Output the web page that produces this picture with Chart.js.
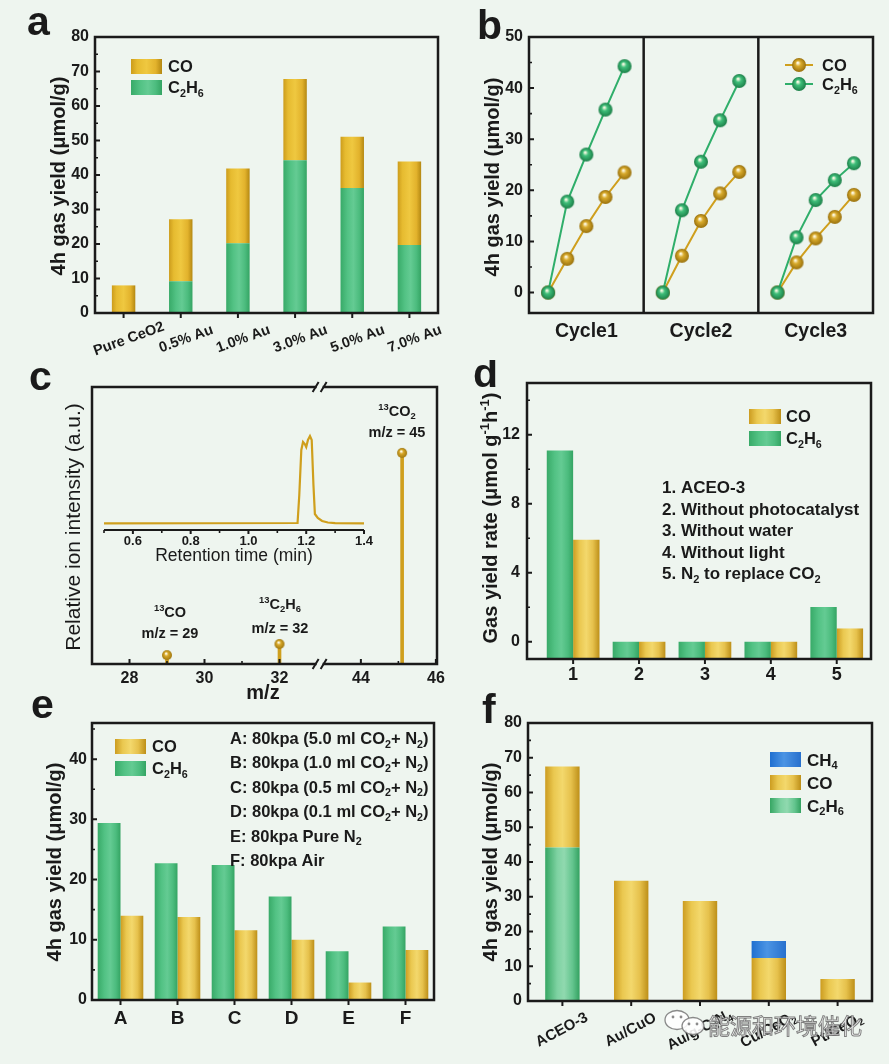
<!DOCTYPE html>
<html>
<head>
<meta charset="utf-8">
<title>Photocatalytic CO2 reduction panels</title>
<script src="https://cdn.jsdelivr.net/npm/chart.js@4.4.1/dist/chart.umd.min.js"></script>
<style>
  html, body { margin: 0; padding: 0; background: #eef5ef; }
  #page { position: relative; width: 889px; height: 1064px; overflow: hidden; background: #eef5ef; }
  #page canvas { position: absolute; }
</style>
</head>
<body>
<div id="page"></div>
<script>
const FAMILY = "'Liberation Sans', Arial, sans-serif";
const INK = '#1a1a1a';
const BG = '#eef5ef';
const GOLD = '#cf9f1d';
const GREEN = '#2fae6a';

// a: Au loading on CeO2, stacked 4h yields
const loadings = ['Pure CeO2', '0.5% Au', '1.0% Au', '3.0% Au', '5.0% Au', '7.0% Au'];
const loadC2H6 = [0, 9.2, 20.2, 44.3, 36.2, 19.7];
const loadCO = [8.0, 18.0, 21.7, 23.5, 14.9, 24.2];
const yTicksA = [0, 10, 20, 30, 40, 50, 60, 70, 80];

// b: three runs, 5 sampling points each
const cycles = ['Cycle1', 'Cycle2', 'Cycle3'];
const cycleCO = [[0, 6.6, 13.0, 18.7, 23.5], [0, 7.2, 14.0, 19.4, 23.6], [0, 5.9, 10.6, 14.8, 19.1]];
const cycleC2H6 = [[0, 17.8, 27.0, 35.8, 44.3], [0, 16.1, 25.6, 33.7, 41.4], [0, 10.8, 18.1, 22.0, 25.3]];
const yTicksB = [0, 10, 20, 30, 40, 50];

// c: 13C labelling, MS peaks + GC trace (inset)
const mzPeaks = [29, 32, 45.1];
const mzIntensity = [0.032, 0.072, 0.762];
const mzTicks = [28, 30, 32, 44, 46];
const mzMinor = [29, 31, 45];
const rtTime = [0.5, 1.17, 1.176, 1.183, 1.189, 1.195, 1.2, 1.206, 1.213, 1.219, 1.225, 1.23, 1.24, 1.255, 1.275, 1.3, 1.4];
const rtSignal = [0.067, 0.07, 0.35, 0.8, 0.88, 0.86, 0.83, 0.9, 0.94, 0.9, 0.45, 0.16, 0.12, 0.09, 0.075, 0.068, 0.067];
const rtTicks = [0.6, 0.8, 1.0, 1.2, 1.4];
const rtMinor = [0.5, 0.7, 0.9, 1.1, 1.3];

// d: control experiments
const conditions = [1, 2, 3, 4, 5];
const condC2H6 = [11.08, 0, 0, 0, 2.01];
const condCO = [5.91, 0, 0, 0, 0.77];
const condNotes = ['1. ACEO-3', '2. Without photocatalyst', '3. Without water', '4. Without light', '5. N_{2} to replace CO_{2}'];
const yTicksD = [0, 4, 8, 12];

// e: gas atmosphere
const atmos = ['A', 'B', 'C', 'D', 'E', 'F'];
const atmC2H6 = [29.4, 22.7, 22.4, 17.2, 8.1, 12.2];
const atmCO = [14.0, 13.8, 11.6, 10.0, 2.9, 8.3];
const atmNotes = ['A: 80kpa (5.0 ml CO_{2}+ N_{2})', 'B: 80kpa (1.0 ml CO_{2}+ N_{2})', 'C: 80kpa (0.5 ml CO_{2}+ N_{2})',
  'D: 80kpa (0.1 ml CO_{2}+ N_{2})', 'E: 80kpa Pure N_{2}', 'F: 80kpa Air'];
const yTicksE = [0, 10, 20, 30, 40];

// f: other catalysts
const catalysts = ['ACEO-3', 'Au/CuO', 'Au/g-C_{3}N_{4}', 'Cu/CeO_{2}', 'Pt/CeO_{2}'];
const catC2H6 = [44.2, 0, 0, 0, 0];
const catCO = [23.3, 34.6, 28.8, 12.4, 6.3];
const catCH4 = [0, 0, 0, 4.9, 0];
const yTicksF = [0, 10, 20, 30, 40, 50, 60, 70, 80];

const TONES = {
  gold: [[0, '#cc9c1c'], [0.2, '#e6bb30'], [0.5, '#efc840'], [0.8, '#e2b22c'], [1, '#b48812']],
  goldSoft: [[0, '#cc9c20'], [0.25, '#eac850'], [0.5, '#f3d86c'], [0.75, '#e6c14c'], [1, '#bd8f18']],
  green: [[0, '#38aa68'], [0.3, '#52c284'], [0.55, '#64cb93'], [0.8, '#4cbc7e'], [1, '#34a463']],
  greenSoft: [[0, '#36a663'], [0.35, '#7ed2a2'], [0.55, '#90d9af'], [0.8, '#62c48d'], [1, '#33a160']],
  blue: [[0, '#1f6fd0'], [0.45, '#4b94e4'], [1, '#2870cd']]
};

function fontOf(size, weight) { return (weight || 'bold') + ' ' + size + 'px ' + FAMILY; }

// tiny markup: _{sub} and ^{sup}
function richParts(str) {
  const out = [], re = /([_^])\{([^}]*)\}/g;
  let last = 0, m;
  while ((m = re.exec(str))) {
    if (m.index > last) out.push([str.slice(last, m.index), 'n']);
    out.push([m[2], m[1] === '_' ? 'sub' : 'sup']);
    last = re.lastIndex;
  }
  if (last < str.length) out.push([str.slice(last), 'n']);
  return out;
}
function richWidth(ctx, str, size, weight) {
  let w = 0;
  richParts(str).forEach(([t, k]) => { ctx.font = fontOf(k === 'n' ? size : size * 0.65, weight); w += ctx.measureText(t).width; });
  return w;
}
function drawRich(ctx, str, x, y, size, align, weight) {
  const w = richWidth(ctx, str, size, weight);
  let cx = align === 'center' ? x - w / 2 : align === 'right' ? x - w : x;
  ctx.textAlign = 'left';
  ctx.textBaseline = 'alphabetic';
  richParts(str).forEach(([t, k]) => {
    const s = k === 'n' ? size : size * 0.65;
    ctx.font = fontOf(s, weight);
    const dy = k === 'sub' ? size * 0.22 : k === 'sup' ? -size * 0.42 : 0;
    ctx.fillText(t, cx, y + dy);
    cx += ctx.measureText(t).width;
  });
}

function toneFill(ctx, tone, left, width) {
  const g = ctx.createLinearGradient(left, 0, left + width, 0);
  TONES[tone].forEach(([o, c]) => g.addColorStop(o, c));
  return g;
}

function ball(base, dark, r) {
  const c = document.createElement('canvas');
  const d = r * 2 + 2;
  c.width = c.height = d;
  const g = c.getContext('2d');
  const grad = g.createRadialGradient(d * 0.42, d * 0.36, 0.5, d / 2, d / 2, r);
  grad.addColorStop(0, '#fffbe6');
  grad.addColorStop(0.35, base);
  grad.addColorStop(1, dark);
  g.fillStyle = grad;
  g.beginPath(); g.arc(d / 2, d / 2, r, 0, Math.PI * 2); g.fill();
  return c;
}
const ballGold = ball('#d9ab2c', '#98700c', 7);
const ballGreen = ball('#3fbf7a', '#1c7f48', 7);
const dotGold = ball('#d8a828', '#a07810', 5);

function minorBetween(majors, max) {
  const half = (majors[1] - majors[0]) / 2, out = [];
  for (let v = majors[0] + half; v < max; v += 2 * half) out.push(v);
  return out;
}

function paintBars(chart) {
  chart.data.datasets.forEach((ds, i) => {
    if (!ds.tone) return;
    chart.getDatasetMeta(i).data.forEach(el => {
      if (!el.width) return;
      el.options = Object.assign({}, el.options, { backgroundColor: toneFill(chart.ctx, ds.tone, el.x - el.width / 2, el.width) });
    });
  });
}

function marks(ctx, scale, a, axis, values, dir, len, width) {
  ctx.lineWidth = width;
  ctx.beginPath();
  values.forEach(v => {
    const p = scale.getPixelForValue(v);
    if (axis === 'y') { ctx.moveTo(a.left, p); ctx.lineTo(a.left + (dir === 'in' ? len : -len), p); }
    else { ctx.moveTo(p, a.bottom); ctx.lineTo(p, a.bottom + (dir === 'in' ? -len : len)); }
  });
  ctx.stroke();
}

function drawLegend(ctx, L, P) {
  L.items.forEach((it, i) => {
    const [x, y] = P(L.x, L.y + i * L.dy);
    if (it.tone) {
      ctx.fillStyle = toneFill(ctx, it.tone, x, L.w);
      ctx.fillRect(x, y, L.w, L.h);
    } else {
      ctx.strokeStyle = it.color; ctx.lineWidth = 2;
      ctx.beginPath(); ctx.moveTo(x, y + L.h / 2); ctx.lineTo(x + L.w, y + L.h / 2); ctx.stroke();
      ctx.drawImage(it.img, x + L.w / 2 - it.img.width / 2, y + L.h / 2 - it.img.height / 2);
    }
    ctx.fillStyle = INK;
    drawRich(ctx, it.label, x + L.w + L.gap, y + L.h / 2 + L.size * 0.36, L.size, 'left');
  });
}

// frame, tick marks, titles, notes and legends that Origin-style figures carry
function decor(cfg) {
  return {
    id: 'decor',
    beforeDatasetsDraw(chart) { paintBars(chart); },
    afterDraw(chart) {
      const ctx = chart.ctx, a = chart.chartArea;
      const ox = cfg.origin[0], oy = cfg.origin[1];
      const P = (x, y) => [x - ox, y - oy];
      const xs = chart.scales.x, ys = chart.scales.y;
      ctx.save();
      ctx.strokeStyle = INK; ctx.fillStyle = INK; ctx.lineCap = 'butt';
      if (cfg.yMarks) {
        marks(ctx, ys, a, 'y', ys.ticks.map(t => t.value), cfg.yMarks.dir, 5, 2);
        marks(ctx, ys, a, 'y', cfg.yMarks.minor || [], cfg.yMarks.dir, 3, 1.6);
      }
      if (cfg.xMarks) {
        marks(ctx, xs, a, 'x', cfg.xMarks.at, cfg.xMarks.dir, cfg.xMarks.len || 5, 2);
        marks(ctx, xs, a, 'x', cfg.xMarks.minor || [], cfg.xMarks.dir, 3, 1.6);
      }
      if (cfg.frame === false) {
        ctx.lineWidth = 2;
        ctx.beginPath(); ctx.moveTo(a.left, a.bottom); ctx.lineTo(a.right, a.bottom); ctx.stroke();
      } else {
        ctx.lineWidth = 2.5;
        ctx.strokeRect(a.left, a.top, a.right - a.left, a.bottom - a.top);
      }
      if (cfg.xText) {
        cfg.xText.list.forEach(v => {
          drawRich(ctx, String(v), xs.getPixelForValue(cfg.xText.map(v)), cfg.xText.y - oy, cfg.xText.size, 'center');
        });
      }
      if (cfg.tiltLabels) {
        const T = cfg.tiltLabels;
        T.list.forEach((s, i) => {
          ctx.save();
          ctx.translate(xs.getPixelForValue(i) + T.dx, T.y - oy);
          ctx.rotate(T.angle * Math.PI / 180);
          drawRich(ctx, s, 0, T.size * 0.35, T.size, 'center');
          ctx.restore();
        });
      }
      if (cfg.yTitle) {
        const t = cfg.yTitle, sz = t.size || 20;
        const [x, y] = P(t.x, t.y);
        ctx.save();
        ctx.translate(x, y); ctx.rotate(-Math.PI / 2);
        drawRich(ctx, t.s, 0, sz * 0.35, sz, 'center', t.weight);
        ctx.restore();
      }
      if (cfg.xTitle) {
        const t = cfg.xTitle;
        const [x, y] = P(t.x, t.y);
        drawRich(ctx, t.s, x, y, t.size, 'center', t.weight);
      }
      (cfg.texts || []).forEach(t => {
        const [x, y] = P(t.x, t.y);
        ctx.fillStyle = INK;
        drawRich(ctx, t.s, x, y, t.size, t.align || 'left', t.weight);
      });
      if (cfg.legend) drawLegend(ctx, cfg.legend, P);
      if (cfg.extra) cfg.extra(chart, ctx, P);
      ctx.restore();
    }
  };
}

const page = document.getElementById('page');
function mount(box) {
  const c = document.createElement('canvas');
  c.width = box[2]; c.height = box[3];
  Object.assign(c.style, { left: box[0] + 'px', top: box[1] + 'px', width: box[2] + 'px', height: box[3] + 'px' });
  page.appendChild(c);
  return c;
}

function base(box, plot) {
  return {
    responsive: false, animation: false, events: [],
    layout: { padding: { left: 0, bottom: 0, top: plot[1] - box[1], right: box[0] + box[2] - plot[2] } },
    plugins: { legend: { display: false }, tooltip: { enabled: false } }
  };
}
const noGrid = { display: false, drawTicks: false };

function valueAxis(min, max, ticks, width, pad, stacked) {
  return {
    min, max, stacked: !!stacked,
    afterBuildTicks: s => { s.ticks = ticks.map(value => ({ value })); },
    afterFit: s => { s.width = width; },
    grid: noGrid, border: { display: false },
    ticks: { color: INK, padding: pad, font: { family: FAMILY, size: 16, weight: 'bold' } }
  };
}
function bandAxis(height, extra) {
  return Object.assign({
    afterFit: s => { s.height = height; },
    grid: noGrid, border: { display: false },
    ticks: { display: false }
  }, extra);
}

// ---------- a ----------
const boxA = [0, 0, 445, 360], plotA = [95, 37, 438, 313];
new Chart(mount(boxA), {
  type: 'bar',
  data: {
    labels: loadings,
    datasets: [
      { label: 'C2H6', data: loadC2H6, tone: 'green', backgroundColor: '#55c487' },
      { label: 'CO', data: loadCO, tone: 'gold', backgroundColor: '#e9c03a' }
    ]
  },
  options: Object.assign(base(boxA, plotA), {
    datasets: { bar: { barPercentage: 0.41, categoryPercentage: 1, borderWidth: 0 } },
    scales: {
      x: bandAxis(boxA[1] + boxA[3] - plotA[3], { stacked: true }),
      y: valueAxis(0, 80, yTicksA, plotA[0] - boxA[0], 6, true)
    }
  }),
  plugins: [decor({
    origin: boxA,
    yMarks: { dir: 'in', minor: minorBetween(yTicksA, 80) },
    xMarks: { dir: 'out', at: loadings.map((_, i) => i) },
    tiltLabels: { list: loadings, y: 338, dx: 5, angle: -20, size: 14.5 },
    yTitle: { s: '4h gas yield (μmol/g)', x: 58, y: 176 },
    texts: [{ s: 'a', x: 27, y: 35, size: 41 }],
    legend: { x: 131, y: 59, dy: 21, w: 31, h: 15, gap: 6, size: 16.5,
      items: [{ tone: 'gold', label: 'CO' }, { tone: 'green', label: 'C_{2}H_{6}' }] }
  })]
});

// ---------- b ----------
const boxB = [445, 0, 444, 360], plotB = [529, 37, 873, 313];
function cycleSeries(series) {
  const pts = [];
  series.forEach((vals, c) => {
    vals.forEach((v, i) => pts.push({ x: c * 6 + 1 + i, y: v }));
    pts.push({ x: c * 6 + 6, y: null });
  });
  return pts;
}
new Chart(mount(boxB), {
  type: 'line',
  data: {
    datasets: [
      { label: 'C2H6', data: cycleSeries(cycleC2H6), borderColor: GREEN, pointStyle: ballGreen },
      { label: 'CO', data: cycleSeries(cycleCO), borderColor: GOLD, pointStyle: ballGold }
    ]
  },
  options: Object.assign(base(boxB, plotB), {
    spanGaps: false,
    elements: { line: { borderWidth: 2, tension: 0 }, point: { radius: 7 } },
    scales: {
      x: {
        type: 'linear', min: 0, max: cycles.length * 6,
        afterBuildTicks: s => { s.ticks = cycles.map((_, c) => ({ value: c * 6 + 3 })); },
        afterFit: s => { s.height = boxB[1] + boxB[3] - plotB[3]; },
        grid: noGrid, border: { display: false },
        ticks: { color: INK, padding: 7, font: { family: FAMILY, size: 19.5, weight: 'bold' },
          callback: v => cycles[Math.round((v - 3) / 6)] }
      },
      y: valueAxis(-4, 50, yTicksB, plotB[0] - boxB[0], 6)
    }
  }),
  plugins: [decor({
    origin: boxB,
    yMarks: { dir: 'in', minor: minorBetween(yTicksB, 50) },
    yTitle: { s: '4h gas yield (μmol/g)', x: 492, y: 177 },
    texts: [{ s: 'b', x: 477, y: 39, size: 41 }],
    legend: { x: 785, y: 58, dy: 19, w: 28, h: 14, gap: 9, size: 16.5,
      items: [{ color: GOLD, img: ballGold, label: 'CO' }, { color: GREEN, img: ballGreen, label: 'C_{2}H_{6}' }] },
    extra(chart, ctx) {
      const a = chart.chartArea;
      ctx.strokeStyle = INK; ctx.lineWidth = 2.5;
      ctx.beginPath();
      cycles.slice(1).forEach((_, i) => {
        const x = chart.scales.x.getPixelForValue((i + 1) * 6);
        ctx.moveTo(x, a.top); ctx.lineTo(x, a.bottom);
      });
      ctx.stroke();
    }
  })]
});

// ---------- c ----------
const BREAK_LO = 33.07, BREAK_HI = 42.9;
const mzAxis = v => (v <= BREAK_LO ? v : v - (BREAK_HI - BREAK_LO));
const boxC = [0, 360, 445, 345], plotC = [92, 387, 437, 664];
const mzPoints = mzPeaks.map((m, i) => ({ x: mzAxis(m), y: mzIntensity[i] }));
new Chart(mount(boxC), {
  type: 'bar',
  data: {
    datasets: [
      { type: 'scatter', data: mzPoints, pointStyle: dotGold, pointRadius: 6 },
      { type: 'bar', data: mzPoints, backgroundColor: GOLD, barThickness: 3, borderWidth: 0 }
    ]
  },
  options: Object.assign(base(boxC, plotC), {
    scales: {
      x: {
        type: 'linear', offset: false, min: 27, max: mzAxis(46.03),
        afterFit: s => { s.height = boxC[1] + boxC[3] - plotC[3]; },
        grid: noGrid, border: { display: false }, ticks: { display: false }
      },
      y: {
        min: 0, max: 1,
        afterFit: s => { s.width = plotC[0] - boxC[0]; },
        grid: noGrid, border: { display: false }, ticks: { display: false }
      }
    }
  }),
  plugins: [decor({
    origin: boxC,
    xMarks: { dir: 'in', at: mzTicks.map(mzAxis), minor: mzMinor.map(mzAxis) },
    xText: { list: mzTicks, map: mzAxis, y: 683, size: 16 },
    yTitle: { s: 'Relative ion intensity (a.u.)', x: 73, y: 527, size: 21, weight: 'normal' },
    xTitle: { s: 'm/z', x: 263, y: 699, size: 20 },
    texts: [
      { s: 'c', x: 29, y: 390, size: 41 },
      { s: '^{13}CO', x: 170, y: 617, size: 14.5, align: 'center' },
      { s: 'm/z = 29', x: 170, y: 638, size: 14.5, align: 'center' },
      { s: '^{13}C_{2}H_{6}', x: 280, y: 609, size: 14.5, align: 'center' },
      { s: 'm/z = 32', x: 280, y: 633, size: 14.5, align: 'center' },
      { s: '^{13}CO_{2}', x: 397, y: 416, size: 14.5, align: 'center' },
      { s: 'm/z = 45', x: 397, y: 437, size: 14.5, align: 'center' }
    ],
    extra(chart, ctx) {
      // axis break marks
      const a = chart.chartArea, x = chart.scales.x.getPixelForValue(BREAK_LO);
      [a.top, a.bottom].forEach(y => {
        ctx.fillStyle = BG;
        ctx.fillRect(x - 3, y - 2.5, 6, 5);
        ctx.strokeStyle = INK; ctx.lineWidth = 2;
        ctx.beginPath();
        ctx.moveTo(x - 7, y + 5); ctx.lineTo(x - 1, y - 5);
        ctx.moveTo(x + 1, y + 5); ctx.lineTo(x + 7, y - 5);
        ctx.stroke();
      });
    }
  })]
});

// inset GC trace
const boxIn = [90, 420, 290, 150], plotIn = [104, 430, 364, 530];
new Chart(mount(boxIn), {
  type: 'line',
  data: {
    datasets: [{ data: rtTime.map((t, i) => ({ x: t, y: rtSignal[i] })), borderColor: GOLD, borderWidth: 2.2, pointRadius: 0, tension: 0 }]
  },
  options: Object.assign(base(boxIn, plotIn), {
    layout: { padding: { left: plotIn[0] - boxIn[0], top: plotIn[1] - boxIn[1], right: boxIn[0] + boxIn[2] - plotIn[2], bottom: 0 } },
    scales: {
      x: {
        type: 'linear', min: 0.5, max: 1.4,
        afterBuildTicks: s => { s.ticks = rtTicks.map(value => ({ value })); },
        afterFit: s => { s.height = boxIn[1] + boxIn[3] - plotIn[3]; },
        grid: noGrid, border: { display: false },
        ticks: { color: INK, padding: 4, font: { family: FAMILY, size: 13, weight: 'bold' }, callback: v => v.toFixed(1) }
      },
      y: { display: false, min: 0, max: 1 }
    }
  }),
  plugins: [decor({
    origin: boxIn, frame: false,
    xMarks: { dir: 'out', at: rtTicks, minor: rtMinor, len: 4 },
    xTitle: { s: 'Retention time (min)', x: 234, y: 561, size: 17.5, weight: 'normal' }
  })]
});

// ---------- d ----------
const boxD = [445, 360, 444, 330], plotD = [527, 383, 871, 659];
new Chart(mount(boxD), {
  type: 'bar',
  data: {
    datasets: [
      { label: 'C2H6', data: conditions.map((c, i) => ({ x: c, y: condC2H6[i] })), base: -1, tone: 'green', backgroundColor: '#55c487' },
      { label: 'CO', data: conditions.map((c, i) => ({ x: c, y: condCO[i] })), base: -1, tone: 'goldSoft', backgroundColor: '#ebc650' }
    ]
  },
  options: Object.assign(base(boxD, plotD), {
    datasets: { bar: { categoryPercentage: 0.8, barPercentage: 1, borderWidth: 0 } },
    scales: {
      x: {
        type: 'linear', offset: false, min: 0.3, max: 5.52,
        afterBuildTicks: s => { s.ticks = conditions.map(value => ({ value })); },
        afterFit: s => { s.height = boxD[1] + boxD[3] - plotD[3]; },
        grid: noGrid, border: { display: false },
        ticks: { color: INK, padding: 5, font: { family: FAMILY, size: 18, weight: 'bold' } }
      },
      y: valueAxis(-1, 15, yTicksD, plotD[0] - boxD[0], 7)
    }
  }),
  plugins: [decor({
    origin: boxD,
    yMarks: { dir: 'in', minor: minorBetween(yTicksD, 15) },
    xMarks: { dir: 'out', at: conditions },
    yTitle: { s: 'Gas yield rate (μmol g^{-1}h^{-1})', x: 490, y: 518 },
    texts: [{ s: 'd', x: 473, y: 387, size: 41 }].concat(
      condNotes.map((s, i) => ({ s, x: 662, y: 493 + i * 21.5, size: 17 }))),
    legend: { x: 749, y: 409, dy: 22, w: 32, h: 15, gap: 5, size: 16.5,
      items: [{ tone: 'goldSoft', label: 'CO' }, { tone: 'green', label: 'C_{2}H_{6}' }] }
  })]
});

// ---------- e ----------
const boxE = [0, 690, 445, 374], plotE = [92, 723, 434, 1000];
new Chart(mount(boxE), {
  type: 'bar',
  data: {
    labels: atmos,
    datasets: [
      { label: 'C2H6', data: atmC2H6, tone: 'green', backgroundColor: '#55c487' },
      { label: 'CO', data: atmCO, tone: 'goldSoft', backgroundColor: '#ebc650' }
    ]
  },
  options: Object.assign(base(boxE, plotE), {
    datasets: { bar: { categoryPercentage: 0.8, barPercentage: 1, borderWidth: 0 } },
    scales: {
      x: bandAxis(boxE[1] + boxE[3] - plotE[3], {
        ticks: { color: INK, padding: 7, font: { family: FAMILY, size: 19, weight: 'bold' } }
      }),
      y: valueAxis(0, 46, yTicksE, plotE[0] - boxE[0], 5)
    }
  }),
  plugins: [decor({
    origin: boxE,
    yMarks: { dir: 'in', minor: minorBetween(yTicksE, 46) },
    xMarks: { dir: 'out', at: atmos.map((_, i) => i) },
    yTitle: { s: '4h gas yield (μmol/g)', x: 54, y: 862 },
    texts: [{ s: 'e', x: 31, y: 718, size: 41 }].concat(
      atmNotes.map((s, i) => ({ s, x: 230, y: 744 + i * 24.4, size: 16.5 }))),
    legend: { x: 115, y: 739, dy: 22, w: 31, h: 15, gap: 6, size: 16.5,
      items: [{ tone: 'goldSoft', label: 'CO' }, { tone: 'green', label: 'C_{2}H_{6}' }] }
  })]
});

// ---------- f ----------
const boxF = [445, 690, 444, 374], plotF = [528, 723, 872, 1001];
function watermark(ctx, P) {
  ctx.save();
  ctx.globalAlpha = 0.88;
  ctx.fillStyle = '#ffffff'; ctx.strokeStyle = '#7a7a7a'; ctx.lineWidth = 1.3;
  [[677, 1020, 12, 9.5], [693, 1026, 11, 8.5]].forEach(([x, y, rx, ry]) => {
    const [cx, cy] = P(x, y);
    ctx.beginPath(); ctx.ellipse(cx, cy, rx, ry, 0, 0, Math.PI * 2); ctx.fill(); ctx.stroke();
  });
  ctx.fillStyle = '#7a7a7a';
  [[673, 1017], [681, 1017], [689, 1024], [697, 1024]].forEach(([x, y]) => {
    const [cx, cy] = P(x, y);
    ctx.beginPath(); ctx.arc(cx, cy, 1.4, 0, Math.PI * 2); ctx.fill();
  });
  ctx.font = '22px "Noto Sans CJK SC"';
  ctx.textAlign = 'left'; ctx.textBaseline = 'middle';
  const [tx, ty] = P(708, 1026);
  ctx.fillStyle = '#ffffff'; ctx.fillText('能源和环境催化', tx, ty);
  ctx.strokeStyle = '#6e6e6e'; ctx.lineWidth = 1; ctx.strokeText('能源和环境催化', tx, ty);
  ctx.restore();
}
new Chart(mount(boxF), {
  type: 'bar',
  data: {
    labels: catalysts,
    datasets: [
      { label: 'C2H6', data: catC2H6, tone: 'greenSoft', backgroundColor: '#6fcf98' },
      { label: 'CO', data: catCO, tone: 'goldSoft', backgroundColor: '#ebc650' },
      { label: 'CH4', data: catCH4, tone: 'blue', backgroundColor: '#3b82d8' }
    ]
  },
  options: Object.assign(base(boxF, plotF), {
    datasets: { bar: { barPercentage: 0.5, categoryPercentage: 1, borderWidth: 0 } },
    scales: {
      x: bandAxis(boxF[1] + boxF[3] - plotF[3], { stacked: true }),
      y: valueAxis(0, 80, yTicksF, plotF[0] - boxF[0], 6, true)
    }
  }),
  plugins: [decor({
    origin: boxF,
    yMarks: { dir: 'in', minor: minorBetween(yTicksF, 80) },
    xMarks: { dir: 'out', at: catalysts.map((_, i) => i) },
    tiltLabels: { list: catalysts, y: 1029, dx: -1, angle: -28, size: 15 },
    yTitle: { s: '4h gas yield (μmol/g)', x: 490, y: 862 },
    texts: [{ s: 'f', x: 482, y: 723, size: 41 }],
    legend: { x: 770, y: 752, dy: 23, w: 31, h: 15, gap: 6, size: 17,
      items: [{ tone: 'blue', label: 'CH_{4}' }, { tone: 'goldSoft', label: 'CO' }, { tone: 'greenSoft', label: 'C_{2}H_{6}' }] },
    extra(chart, ctx, P) { watermark(ctx, P); }
  })]
});
</script>
</body>
</html>
